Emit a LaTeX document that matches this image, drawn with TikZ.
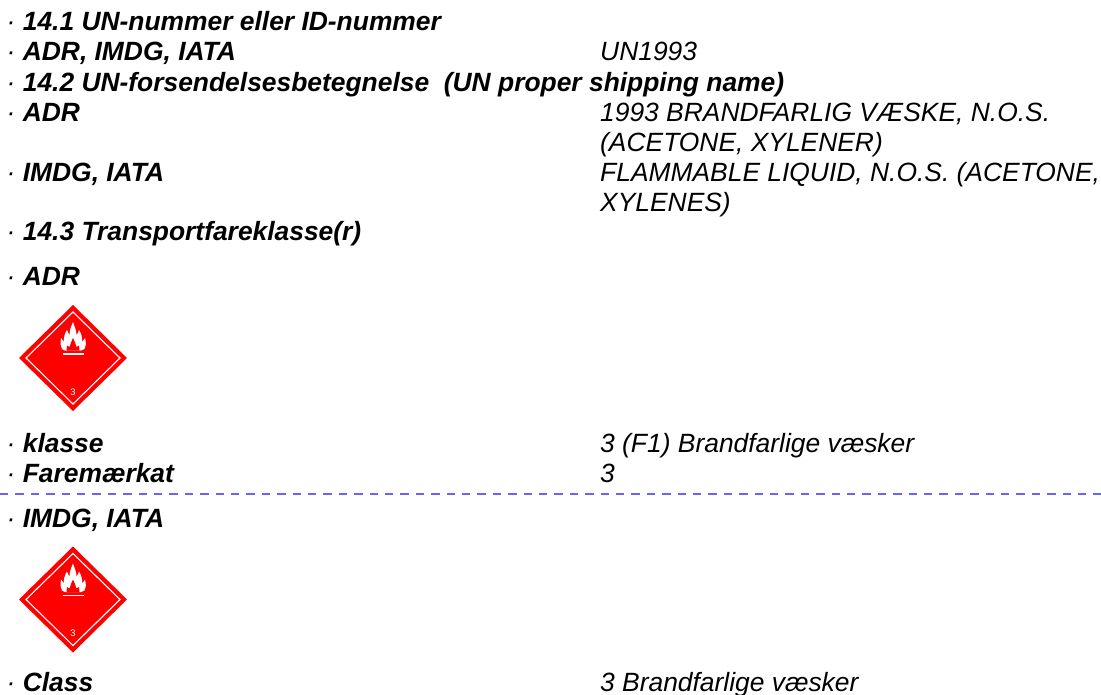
\documentclass[tikz,border=0pt]{standalone}
\usepackage{fontspec}
\setmainfont{Liberation Sans}
\newcommand{\bul}{{\mdseries ·}}
\tikzset{
 lab/.style={anchor=base west,inner sep=0pt,font=\fontsize{26.4pt}{30pt}\selectfont\bfseries\itshape},
 val/.style={anchor=base west,inner sep=0pt,font=\fontsize{26.4pt}{30pt}\selectfont\itshape},
 dashsep/.style={draw={rgb,255:red,100;green,100;blue,255},line width=1.25pt,dash pattern=on 8.4pt off 7pt},
}
\newcommand{\hazard}[3]{%
 \begin{scope}[shift={(#1,#2)}]
  \fill[red] (0,-53)--(54,0)--(0,53)--(-54,0)--cycle;
  \draw[white,line width=1.1pt] (0,-46)--(47,0)--(0,46)--(-47,0)--cycle;
  \fill[white] (-11,-9) .. controls (-13,-12) and (-12.5,-15) .. (-12,-20)
    .. controls (-10.5,-18) and (-9.5,-17) .. (-9,-16)
    .. controls (-9.5,-21) and (-8,-25) .. (-6,-28)
    .. controls (-5,-25) and (-4,-24) .. (-3.5,-23)
    .. controls (-3.5,-28) and (-2,-31) .. (0,-36)
    .. controls (1.5,-31) and (3.5,-28) .. (3.5,-23)
    .. controls (4.5,-24) and (5.5,-26) .. (6,-28)
    .. controls (8,-25) and (9.5,-21) .. (9,-16)
    .. controls (10,-17) and (11,-18) .. (12,-20)
    .. controls (13,-15) and (13.5,-12) .. (11.5,-9)
    -- (8,-7.5) -- (-8,-7.5) -- cycle;
  \fill[red] (-6.5,-7.5) -- (-6,-12.5) -- (-3.5,-11) -- (-2,-15.5) -- (0,-20) -- (2,-15.5) -- (3.5,-11) -- (6,-12.5) -- (6.5,-7.5) -- cycle;
  \fill[white] (-10,-4.6) rectangle (11,-3.2);
  \node[anchor=base,inner sep=0pt,text=white,font=\fontsize{9.5pt}{10pt}\selectfont] (#3) at (0,37) {3};
 \end{scope}}
\begin{document}
\begin{tikzpicture}[x=1pt,y=-1pt]
\useasboundingbox (0,0) rectangle (1101,695);
\fill[white] (0,0) rectangle (1101,695);
\node[lab] (a1) at (6.5,31) {\bul{} 14.1 UN-nummer eller ID-nummer};
\node[lab] (a2) at (6.5,61) {\bul{} ADR, IMDG, IATA};
\node[val] (b2) at (600,61) {UN1993};
\node[lab] (a3) at (6.5,92) {\bul{} 14.2 UN-forsendelsesbetegnelse\ \ (UN proper shipping name)};
\node[lab] (a4) at (6.5,122) {\bul{} ADR};
\node[val] (b4) at (600,122) {1993 BRANDFARLIG VÆSKE, N.O.S.};
\node[val] (b5) at (600,152) {(ACETONE, XYLENER)};
\node[lab] (a6) at (6.5,182) {\bul{} IMDG, IATA};
\node[val] (b6) at (600,182) {FLAMMABLE LIQUID, N.O.S. (ACETONE,};
\node[val] (b7) at (600,212) {XYLENES)};
\node[lab] (a8) at (6.5,241) {\bul{} 14.3 Transportfareklasse(r)};
\node[lab] (a9) at (6.5,286) {\bul{} ADR};
\hazard{73}{358}{h1}
\node[lab] (a10) at (6.5,452) {\bul{} klasse};
\node[val] (b10) at (600,452) {3 (F1) Brandfarlige væsker};
\node[lab] (a11) at (6.5,482) {\bul{} Faremærkat};
\node[val] (b11) at (600,482) {3};
\coordinate (d1) at (0,494);
\coordinate (d2) at (1101,494);
\draw[dashsep] (d1) -- (d2);
\node[lab] (a12) at (6.5,527) {\bul{} IMDG, IATA};
\hazard{73}{599.5}{h2}
\node[lab] (a13) at (6.5,691) {\bul{} Class};
\node[val] (b13) at (600,691) {3 Brandfarlige væsker};
\end{tikzpicture}
\end{document}
